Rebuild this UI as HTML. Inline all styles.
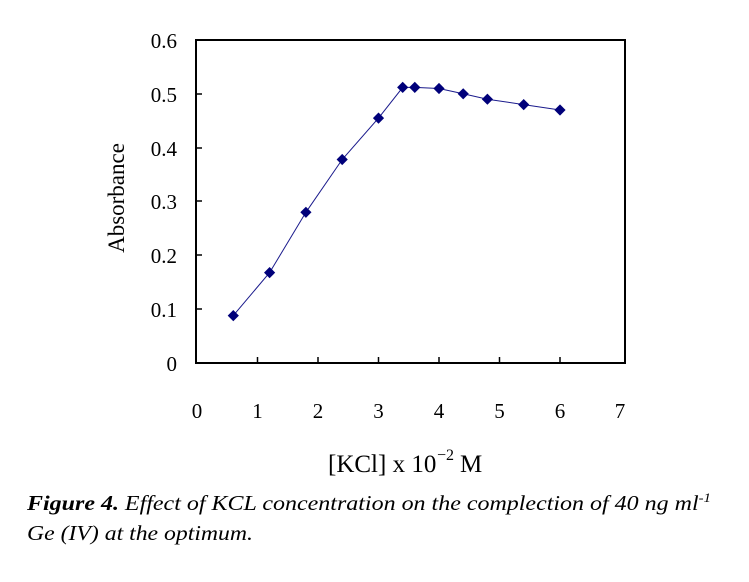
<!DOCTYPE html>
<html><head><style>html,body{margin:0;padding:0;background:#fff;}</style></head>
<body>
<svg width="749" height="577" xmlns="http://www.w3.org/2000/svg" font-family="Liberation Serif, serif">
<rect x="196" y="40" width="429" height="323" fill="none" stroke="#000" stroke-width="2"/>
<g stroke="#000" stroke-width="1.5">
<line x1="257.5" y1="363" x2="257.5" y2="357"/><line x1="318" y1="363" x2="318" y2="357"/>
<line x1="378.5" y1="363" x2="378.5" y2="357"/><line x1="439" y1="363" x2="439" y2="357"/>
<line x1="499.5" y1="363" x2="499.5" y2="357"/><line x1="560" y1="363" x2="560" y2="357"/>
<line x1="196" y1="309" x2="202" y2="309"/><line x1="196" y1="255" x2="202" y2="255"/>
<line x1="196" y1="201" x2="202" y2="201"/><line x1="196" y1="148" x2="202" y2="148"/>
<line x1="196" y1="94" x2="202" y2="94"/>
</g>
<g font-size="21" text-anchor="end" fill="#000">
<text x="177" y="371">0</text><text x="177" y="317">0.1</text><text x="177" y="263">0.2</text>
<text x="177" y="209">0.3</text><text x="177" y="156">0.4</text><text x="177" y="102">0.5</text>
<text x="177" y="48">0.6</text>
</g>
<g font-size="21" text-anchor="middle" fill="#000">
<text x="197" y="418">0</text><text x="257.5" y="418">1</text><text x="318" y="418">2</text>
<text x="378.5" y="418">3</text><text x="439" y="418">4</text><text x="499.5" y="418">5</text>
<text x="560" y="418">6</text><text x="620" y="418">7</text>
</g>
<text x="0" y="0" font-size="23" text-anchor="middle" transform="translate(124,198) rotate(-90)">Absorbance</text>
<text x="328" y="472" font-size="25">[KCl] x 10</text><text x="437" y="460" font-size="16">−2</text><text x="460" y="472" font-size="25">M</text>
<polyline fill="none" stroke="#1a1a8c" stroke-width="1" points="233.3,315.6 269.6,272.6 305.9,212.3 342.2,159.5 378.5,118.1 402.7,87.4 414.8,87.4 439,88.5 463.2,93.8 487.4,99.2 523.7,104.6 560,110"/>
<g fill="#00007a">
<path d="M233.3,310l5.6,5.6l-5.6,5.6l-5.6,-5.6z"/><path d="M269.6,267l5.6,5.6l-5.6,5.6l-5.6,-5.6z"/>
<path d="M305.9,206.7l5.6,5.6l-5.6,5.6l-5.6,-5.6z"/><path d="M342.2,153.9l5.6,5.6l-5.6,5.6l-5.6,-5.6z"/>
<path d="M378.5,112.5l5.6,5.6l-5.6,5.6l-5.6,-5.6z"/><path d="M402.7,81.8l5.6,5.6l-5.6,5.6l-5.6,-5.6z"/>
<path d="M414.8,81.8l5.6,5.6l-5.6,5.6l-5.6,-5.6z"/><path d="M439,82.9l5.6,5.6l-5.6,5.6l-5.6,-5.6z"/>
<path d="M463.2,88.2l5.6,5.6l-5.6,5.6l-5.6,-5.6z"/><path d="M487.4,93.6l5.6,5.6l-5.6,5.6l-5.6,-5.6z"/>
<path d="M523.7,99l5.6,5.6l-5.6,5.6l-5.6,-5.6z"/><path d="M560,104.4l5.6,5.6l-5.6,5.6l-5.6,-5.6z"/>
</g>
<text x="27" y="510" font-size="21" font-style="italic" textLength="684" lengthAdjust="spacingAndGlyphs"><tspan font-weight="bold">Figure 4.</tspan> Effect of KCL concentration on the complection of 40 ng ml<tspan font-size="13" dy="-8">-1</tspan></text>
<text x="27" y="540" font-size="21" font-style="italic" textLength="226" lengthAdjust="spacingAndGlyphs">Ge (IV) at the optimum.</text>
</svg>
</body></html>
